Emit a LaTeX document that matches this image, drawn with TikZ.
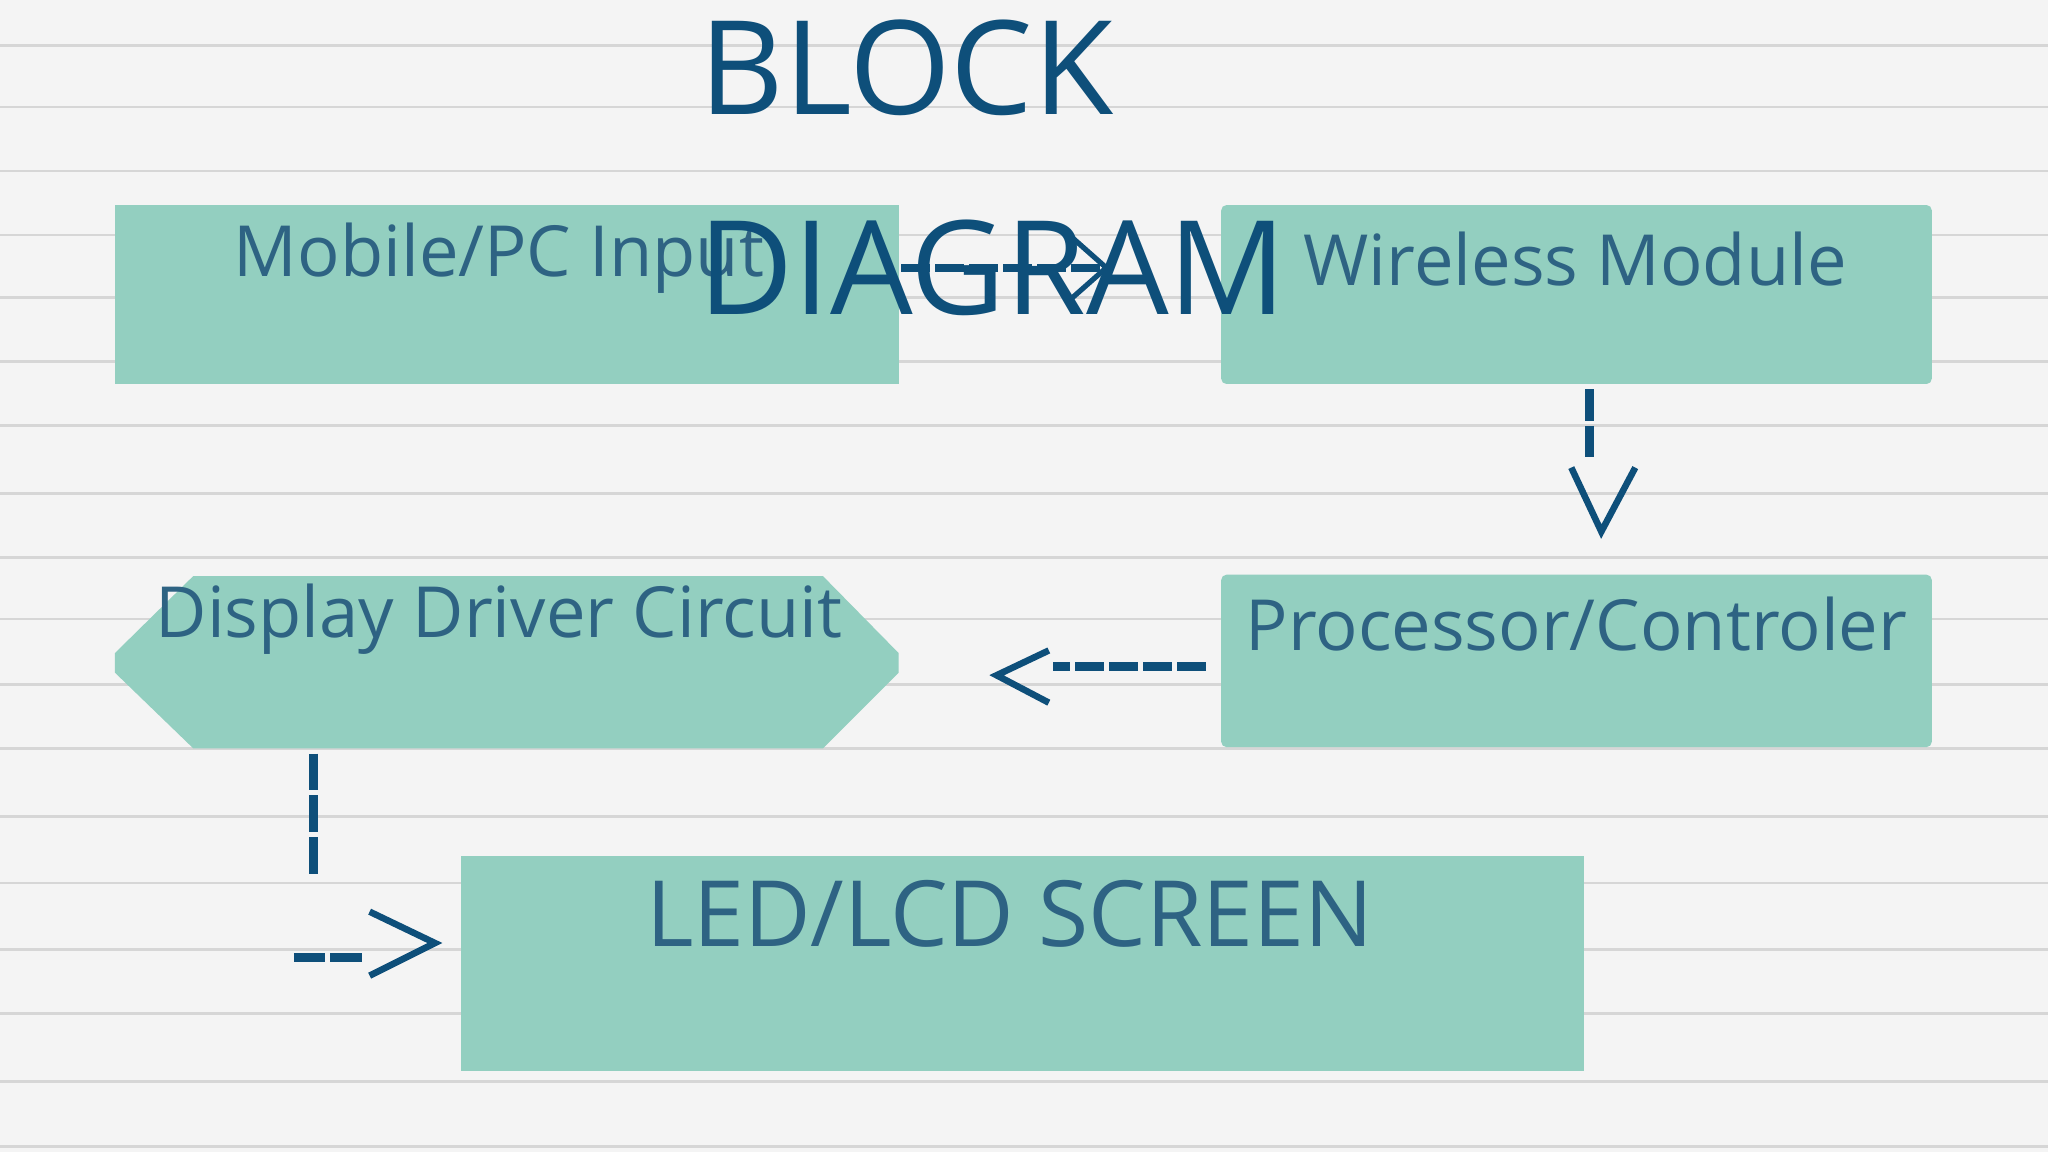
\documentclass[tikz,border=0pt]{standalone}
\usepackage{fontspec}
\setmainfont{Open Sans}
\usetikzlibrary{arrows.meta}
\definecolor{bg}{HTML}{F4F4F4}
\definecolor{rule}{HTML}{D6D6D6}
\definecolor{boxc}{HTML}{93CFC0}
\definecolor{txt}{HTML}{2E6383}
\definecolor{dark}{HTML}{0E4F7A}
\begin{document}
\begin{tikzpicture}[x=1pt,y=-1pt,
  box/.style={fill=boxc,draw=none},
  lbl/.style={text=txt,font=\fontsize{54}{58}\selectfont,anchor=center,inner sep=0},
  conn/.style={draw=dark,line width=6pt,dash pattern=on 22pt off 4pt},
  tip/.style={-{Straight Barb[length=26pt,width=46pt,line width=4pt]}}]
\fill[bg] (0,0) rectangle (1568,882);
\useasboundingbox (0,0) rectangle (1568,882);
\foreach \y in {35,82,131,180,228,277,326,378,427,474,524,573,625,676,727,776,828,878}
  \draw[rule,line width=2pt] (0,\y) -- (1568,\y);
% boxes
\fill[box] (88,157) rectangle (688,294);
\node[lbl] (t1) at (382,198) {Mobile/PC Input};
\coordinate (b1e) at (690,205);
\fill[box,rounded corners=4pt] (935,157) rectangle (1479,294);
\node[lbl] (t2) at (1206,198) {Wireless Module};
\coordinate (b2w) at (850,205);
\fill[box,rounded corners=4pt] (935,440) rectangle (1479,572);
\node[lbl] (t3) at (1207,478) {Processor/Controler};
\fill[box] (148,441) -- (630,441) -- (688,500) -- (688,515) -- (630,573) -- (148,573) -- (88,515) -- (88,500) -- cycle;
\node[lbl] (t4) at (382,474) {Display Driver Circuit};
\fill[box] (353,655) rectangle (1213,820);
\node[lbl,font=\fontsize{70}{74}\selectfont] (t5) at (773,700) {LED/LCD SCREEN};
% title
\node[text=dark,font=\fontsize{100}{110}\selectfont,inner sep=0] (title1) at (694,52) {BLOCK};
\node[text=dark,font=\fontsize{100}{110}\selectfont,inner sep=0] (title2) at (760,205) {DIAGRAM};
% connectors
\draw[conn,tip] (b1e) -- (b2w);
\coordinate (v1a) at (1217,298);
\coordinate (v1b) at (1226,407);
\draw[conn,line width=7pt,dash pattern=on 24pt off 4pt] (v1a) -- (1217,352);
\draw[dark,line width=5pt] (1203,358) -- (v1b) -- (1252,358);
\coordinate (p1) at (923,510);
\coordinate (p2) at (763,517);
\draw[conn,line width=7pt,dash pattern=on 22pt off 4pt] (p1) -- (806,510);
\draw[dark,line width=5pt] (803,498) -- (p2) -- (803,538);
\coordinate (d1) at (240,577);
\draw[conn,line width=7pt,dash pattern=on 28pt off 4pt] (d1) -- (240,672);
\coordinate (d2) at (225,733);
\coordinate (d3) at (333,722);
\draw[conn,line width=7pt,dash pattern=on 24pt off 4pt] (d2) -- (280,733);
\draw[dark,line width=5pt] (283,698) -- (d3) -- (283,747);
\end{tikzpicture}
\end{document}
